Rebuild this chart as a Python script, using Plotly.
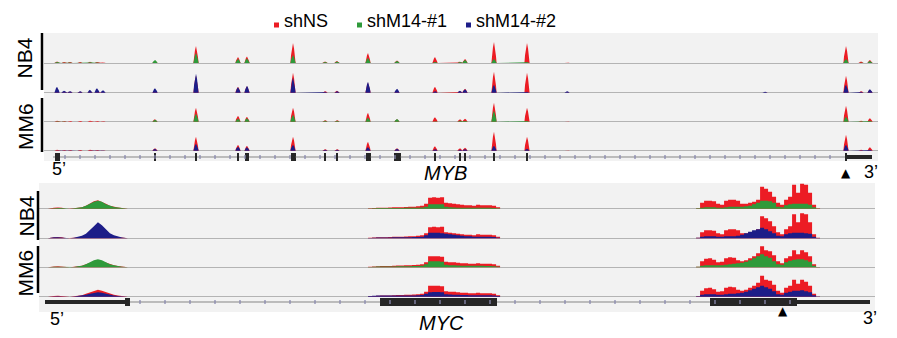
import plotly.graph_objects as go

W, H = 897, 338
FONT = "Liberation Sans, Arial, Helvetica, sans-serif"
RED, GREEN, BLUE = "#EC1C24", "#2F9A3A", "#1D1D88"
GENE_COLOR = "#262626"
PANEL_BG = "#F2F2F2"

# ---------------- MYB locus (kb from the TSS) ----------------
# summits of the m6A-IP peaks and their heights in each library
myb_peak_kb = [0.2, 0.55, 0.85, 1.35, 1.85, 2.2, 2.5, 5.1, 7.15, 9.25, 9.7, 12.0, 13.6,
               14.2, 15.75, 17.2, 19.1, 20.35, 20.6, 22.05, 23.7, 25.7, 35.6, 39.65, 40.4, 40.85]
myb_nb4_shNS = [1.5, 1, 1, 1, 1.2, 1, 0.5, 2, 17, 6, 6.5, 20, 1.5,
                2, 10, 2.5, 6, 1.5, 4, 21, 20, 0.5, 0.3, 17, 1.5, 3]
myb_nb4_sh1 = [1, 0.5, 0.5, 0.5, 0.8, 0.5, 0.3, 3, 10, 4, 4.5, 8, 1,
               1.5, 5, 2, 1, 1, 3, 4, 1, 0.3, 0.3, 4, 0.5, 2]
myb_nb4_sh2 = [6, 2, 1.5, 1.5, 3, 4.5, 2.5, 4.5, 19, 5.5, 7, 15, 1,
               1.5, 11, 4, 1.5, 2, 3.5, 8, 1, 1.5, 1, 8, 1, 3.5]
myb_mm6_shNS = [1, 0.8, 0.8, 0.8, 1, 0.8, 0.5, 2.5, 14, 6, 5, 14, 1.5,
                1.5, 9, 2.5, 4.5, 2.5, 3, 19, 14, 0.3, 0.3, 16, 1, 3.5]
myb_mm6_sh1 = [0.5, 0.4, 0.4, 0.4, 0.5, 0.4, 0.2, 2, 8, 3, 3.5, 7, 1,
               1, 4, 2.8, 0.5, 1, 1, 11, 1, 0.2, 0.2, 5, 0.5, 1]
myb_mm6_sh2 = [0.4, 0.3, 0.3, 0.3, 0.4, 0.3, 0.2, 2, 7, 4, 3.5, 6, 1,
               1, 3.5, 2, 1.5, 1, 1.5, 5, 2, 0.2, 0.2, 6, 0.5, 1]

# MYB exons: start, end (kb) and block type
myb_exon_start = [0.1, 5.05, 7.1, 9.2, 9.6, 11.88, 13.55, 14.15, 15.63, 17.03, 19.05,
                  20.3, 20.55, 22.0, 23.65, 39.6, 39.7]
myb_exon_end = [0.35, 5.15, 7.2, 9.3, 9.8, 12.13, 13.65, 14.25, 15.88, 17.38, 19.15,
                20.4, 20.65, 22.1, 23.75, 39.7, 40.95]
myb_exon_kind = ["cds"] * 16 + ["utr"]
myb_gene_span = [0.0, 40.95]
myb_site_kb = 39.65

# ---------------- MYC locus (bp from the TSS), 26-bp bins ----------------
myc_bin_bp = 26
myc_seg_start_bp = [32, 2100, 4232]
myc_nb4_shNS = [
    [0.5, 1, 1.2, 1, 0, 0, 0.5, 1, 1.5, 3, 5, 7.5, 8.5, 7, 5, 3, 2, 1.2, 0.8, 0.3],
    [0.5, 0.8, 1, 1, 1, 1.2, 1.5, 1.5, 1.5, 1.8, 2, 2, 2.5, 3, 5, 11, 11.5, 11, 11.5, 6, 5.5,
     5, 4.5, 4, 3.5, 3.5, 3, 4, 3.5, 3.5, 3.5, 3, 1.5],
    [0.5, 6, 8, 8, 7.5, 5, 4, 8, 9, 9, 8, 5, 5, 6, 7, 9, 22, 20, 17, 12, 6, 4, 9, 12, 24, 16,
     25, 24, 16, 4, 0.5],
]
myc_nb4_sh1 = [
    [0.3, 0.6, 0.8, 0.6, 0, 0, 0.5, 1, 1.5, 3, 5, 7, 8, 7, 4.5, 3, 1.8, 1.2, 0.8, 0.3],
    [0.3, 0.5, 0.7, 0.7, 0.7, 0.8, 0.8, 0.8, 0.8, 1, 1, 1, 1, 1.2, 2, 4.5, 4.5, 4.5, 4.5, 2,
     1.5, 1.2, 1, 1, 1, 1, 1, 1, 1, 1, 1, 0.8, 0.4],
    [0.5, 1, 1.5, 1.5, 1.5, 1, 1, 1.5, 2, 2, 2, 2, 2.5, 3, 4.5, 6, 8, 8, 7.5, 6, 2, 1.5, 3.5,
     4.5, 5, 5, 5, 5, 4, 1.5, 0.3],
]
myc_nb4_sh2 = [
    [0.5, 1, 1, 0.8, 0, 0, 0.5, 1.5, 2.5, 4.5, 8, 12, 16, 13, 9, 5, 3, 1.5, 0.8, 0.3],
    [0.3, 0.5, 0.7, 0.8, 0.8, 0.8, 1, 1, 1, 1, 1, 1.2, 1.2, 1.5, 3, 5.5, 5.5, 5.5, 5, 4.5, 4,
     3.5, 3, 2.5, 2, 2, 1.5, 1.5, 1.5, 1.5, 1.5, 1.2, 0.6],
    [0.5, 1.5, 2, 2, 2, 1.5, 1.5, 2, 2, 2, 2.5, 3.5, 5, 6.5, 8, 9, 10.5, 9, 7, 5, 2.5, 2, 4,
     5, 5.5, 5.5, 5.5, 5, 4.5, 1.5, 0.3],
]
myc_mm6_shNS = [
    [0.5, 0.8, 1, 0.8, 0, 0, 0.5, 1, 1.5, 3, 4.5, 6, 7, 6, 4.5, 3, 2, 1.2, 0.8, 0.3],
    [0.5, 0.8, 1, 1.2, 1.2, 1.2, 1.5, 1.8, 1.8, 2, 2, 2.2, 2.5, 3, 5, 11, 11, 11, 10.5, 5.5,
     5, 5, 4.5, 4, 4, 3.5, 3.5, 4, 3.5, 3.5, 3.5, 3, 1.5],
    [0.5, 6, 8.5, 9, 7.5, 5, 5.5, 9, 10, 9.5, 7, 6, 7, 9, 11, 14, 21, 17, 16, 12, 6, 4, 9, 11,
     17, 13, 17, 15, 11, 3, 0.3],
]
myc_mm6_sh1 = [
    [0.3, 0.5, 0.6, 0.5, 0, 0, 0.3, 1, 1.5, 3, 5, 7, 8, 7, 5, 3, 2, 1, 0.5, 0.2],
    [0.3, 0.5, 0.7, 0.8, 0.8, 0.8, 0.8, 1, 1, 1, 1, 1.2, 1.2, 1.5, 3, 6, 6, 6, 5.5, 2.5, 2,
     2, 1.8, 1.5, 1.5, 1.5, 1.5, 1.5, 1.5, 1.2, 1.2, 1, 0.5],
    [0.5, 1.5, 2, 2, 2, 2, 2, 2.5, 3, 3.5, 4, 4.5, 5.5, 7, 9, 11, 13, 11, 9.5, 6, 3, 2.5, 5,
     6.5, 7.5, 8, 8, 7, 5.5, 1.5, 0.3],
]
myc_mm6_sh2 = [
    [0.2, 0.4, 0.4, 0.3, 0, 0, 0.3, 0.8, 1.2, 2, 3, 4, 4.5, 4, 3, 2, 1.2, 0.8, 0.5, 0.2],
    [0.8, 1, 1.2, 1.2, 1.2, 1.2, 1.3, 1.3, 1.3, 1.3, 1.3, 1.3, 1.5, 1.8, 3, 4.5, 4.7, 4.7,
     4.5, 2.5, 2.2, 2, 2, 1.8, 1.8, 1.5, 1.5, 1.5, 1.5, 1.5, 1.5, 1.2, 0.6],
    [0.5, 2, 2.5, 2.5, 2.5, 2, 2, 2.5, 3, 3, 3.5, 4, 5, 6.5, 8, 9.5, 11, 9.5, 8, 5.5, 2.5, 2,
     4, 5, 6, 6, 6.5, 5.5, 4.5, 1.5, 0.3],
]
# the 5' exon signal is smooth, the downstream segments are drawn as stepped bins
myc_seg_line_shape = ["linear", "hv", "hv"]

myc_exon_start = [0, 520, 2178, 4322, 4888]
myc_exon_end = [520, 552, 2938, 4888, 5362]
myc_exon_kind = ["utr", "cds", "cds", "cds", "utr3"]
myc_gene_span = [0, 5362]
myc_site_bp = 4797

cell_lines = ["NB4", "MM6"]
legend_names = ["shNS", "shM14-#1", "shM14-#2"]
legend_colors = [RED, GREEN, BLUE]


# ---------------- helpers ----------------
def py(p):
    return 1 - p / H


def px(p):
    return p / W


def spikes(pos, heights, hw=0.13):
    # each summit drawn as a narrow spike with steep flanks
    xs, ys = [], []
    for p, h in zip(pos, heights):
        xs += [p - hw, p - 0.75 * hw, p - 0.4 * hw, p, p + 0.4 * hw, p + 0.75 * hw, p + hw]
        ys += [0, 0.4 * h, 0.75 * h, h, 0.72 * h, 0.35 * h, 0]
    return xs, ys


def binned(start, vals, step, shape):
    if shape == "hv":
        xs = [start + i * step for i in range(len(vals))] + [start + len(vals) * step]
        ys = list(vals) + [0]
    else:
        xs = [start - step / 2] + [start + i * step for i in range(len(vals))] + \
             [start + (len(vals) - 0.5) * step]
        ys = [0] + list(vals) + [0]
    return xs, ys


fig = go.Figure()

# track layout: (cell line, knockdown index)
track_order = [(0, 0), (0, 1), (1, 0), (1, 1)]
myb_series = {0: (myb_nb4_shNS, myb_nb4_sh1, myb_nb4_sh2),
              1: (myb_mm6_shNS, myb_mm6_sh1, myb_mm6_sh2)}
myc_series = {0: (myc_nb4_shNS, myc_nb4_sh1, myc_nb4_sh2),
              1: (myc_mm6_shNS, myc_mm6_sh1, myc_mm6_sh2)}


def area(xs, ys, color, xa, ya, shape="linear"):
    fig.add_trace(go.Scatter(
        x=xs, y=ys, xaxis=xa, yaxis=ya, mode="lines",
        line=dict(width=0, color=color, shape=shape),
        fill="tozeroy", fillcolor=color, hoverinfo="skip", showlegend=False))


# MYB coverage tracks (y, y2, y3, y4)
for t, (cell, kd) in enumerate(track_order):
    ya = "y" if t == 0 else f"y{t + 1}"
    ctrl, k1, k2 = myb_series[cell]
    kd_vals = k1 if kd == 0 else k2
    x0, y0 = spikes(myb_peak_kb, ctrl)
    area(x0, y0, RED, "x", ya)
    x1, y1 = spikes(myb_peak_kb, kd_vals)
    area(x1, y1, GREEN if kd == 0 else BLUE, "x", ya)

# MYC coverage tracks (y6..y9)
for t, (cell, kd) in enumerate(track_order):
    ya = f"y{t + 6}"
    ctrl, k1, k2 = myc_series[cell]
    kd_vals = k1 if kd == 0 else k2
    for s, shape, cv, kv in zip(myc_seg_start_bp, myc_seg_line_shape, ctrl, kd_vals):
        x0, y0 = binned(s, cv, myc_bin_bp, shape)
        area(x0, y0, RED, "x2", ya, shape)
        x1, y1 = binned(s, kv, myc_bin_bp, shape)
        area(x1, y1, GREEN if kd == 0 else BLUE, "x2", ya, shape)

# gene models
block_height = {"cds": 0.9, "utr": 0.6, "utr3": 0.5}


def gene_model(xa, ya, span, starts, ends, kinds, tick_step):
    # intron line only in the gaps between blocks
    order = sorted(zip(starts, ends))
    lx, ly = [], []
    prev_end = span[0]
    for s, e in order:
        if s > prev_end:
            lx += [prev_end, s, None]
            ly += [0, 0, None]
        prev_end = max(prev_end, e)
    if prev_end < span[1]:
        lx += [prev_end, span[1]]
        ly += [0, 0]
    fig.add_trace(go.Scatter(x=lx, y=ly, xaxis=xa, yaxis=ya, mode="lines",
                             line=dict(color="#858585", width=1),
                             hoverinfo="skip", showlegend=False))
    fig.add_trace(go.Bar(
        y=[0] * len(starts), x=[e - s for s, e in zip(starts, ends)], base=starts,
        width=[block_height[k] for k in kinds], orientation="h", xaxis=xa, yaxis=ya,
        marker=dict(color=GENE_COLOR, line=dict(width=0)),
        hoverinfo="skip", showlegend=False))
    # strand ticks, left off the untranslated blocks
    n = int((span[1] - span[0]) / tick_step)
    ticks = [span[0] + tick_step * (i + 0.8) for i in range(n)]
    utr = [(s, e) for s, e, k in zip(starts, ends, kinds) if k != "cds"]
    ticks = [t for t in ticks if not any(s - tick_step * 0.2 <= t <= e for s, e in utr)]
    fig.add_trace(go.Scatter(
        x=ticks, y=[0] * len(ticks), xaxis=xa, yaxis=ya, mode="markers",
        marker=dict(symbol="line-ns", size=3, line=dict(width=1.3, color="#8a8ab0")),
        hoverinfo="skip", showlegend=False))


gene_model("x", "y5", myb_gene_span, myb_exon_start, myb_exon_end, myb_exon_kind, 0.75)
gene_model("x2", "y10", myc_gene_span, myc_exon_start, myc_exon_end, myc_exon_kind, 162.5)

# ---------------- axes ----------------
myb_base_px = [63, 92.7, 121.7, 150.7]
myc_base_px = [208.7, 238.3, 267.3, 296.7]
layout_axes = {}
track_axis = dict(range=[-0.6, 27.4], showgrid=False, showticklabels=False, ticks="",
                  zeroline=True, zerolinecolor="#B4B4B4", zerolinewidth=1,
                  showline=False, fixedrange=True)
for i, b in enumerate(myb_base_px):
    key = "yaxis" if i == 0 else f"yaxis{i + 1}"
    layout_axes[key] = dict(track_axis, anchor="x", domain=[py(b + 0.6), py(b - 27.4)])
for i, b in enumerate(myc_base_px):
    layout_axes[f"yaxis{i + 6}"] = dict(track_axis, anchor="x2",
                                        domain=[py(b + 0.6), py(b - 27.4)])
gene_axis = dict(range=[-1, 1], visible=False, fixedrange=True)
layout_axes["yaxis5"] = dict(gene_axis, anchor="x", domain=[py(157 + 8), py(157 - 8)])
layout_axes["yaxis10"] = dict(gene_axis, anchor="x2", domain=[py(302 + 8), py(302 - 8)])
layout_axes["xaxis"] = dict(domain=[px(44), px(878)], range=[-0.45, 41.25],
                            visible=False, anchor="y", fixedrange=True)
layout_axes["xaxis2"] = dict(domain=[px(39), px(875)], range=[-39, 5395],
                             visible=False, anchor="y6", fixedrange=True)

# ---------------- panels, labels ----------------
shapes = [
    dict(type="rect", xref="paper", yref="paper", x0=px(44), x1=px(878),
         y0=py(161), y1=py(33), fillcolor=PANEL_BG, line_width=0, layer="below"),
    dict(type="rect", xref="paper", yref="paper", x0=px(39), x1=px(875),
         y0=py(312), y1=py(183), fillcolor=PANEL_BG, line_width=0, layer="below"),
]
bar_specs = [(42, 33, 90), (42, 98, 152), (38, 191, 240), (38, 246, 293)]
for xb, yt, yb in bar_specs:
    shapes.append(dict(type="line", xref="paper", yref="paper", x0=px(xb), x1=px(xb),
                       y0=py(yt), y1=py(yb), line=dict(color="black", width=2.5)))

annotations = []


def text(x, y, s, size, **kw):
    annotations.append(dict(x=px(x), y=py(y), xref="paper", yref="paper", text=s,
                            showarrow=False, xanchor=kw.pop("xanchor", "center"),
                            yanchor="middle", font=dict(family=FONT, size=size,
                                                        color="black"), **kw))


# legend keys and names
key_x = [274, 357, 466]
for kx, name, col in zip(key_x, legend_names, legend_colors):
    shapes.append(dict(type="rect", xref="paper", yref="paper", x0=px(kx), x1=px(kx + 5),
                       y0=py(27.5), y1=py(22.5), fillcolor=col, line_width=0))
    text(kx + 8, 21, name, 18, xanchor="left")

for (lx, ly), name in zip([(24.5, 58), (25, 127), (25.5, 216), (25, 273.5)],
                          cell_lines * 2):
    text(lx, ly, name, 21, textangle=-90)

text(59, 169, "5’", 18)
text(445, 173, "<i>MYB</i>", 20)
text(871, 172, "3’", 18)
text(56.5, 319, "5’", 18)
text(441, 323, "<i>MYC</i>", 20)
text(870, 318, "3’", 18)

annotations.append(dict(x=myb_site_kb, y=py(173), xref="x", yref="paper", text="▲",
                        showarrow=False, font=dict(size=12, color="black",
                                                   family="DejaVu Sans")))
annotations.append(dict(x=myc_site_bp, y=py(320), xref="x2", yref="paper", text="▲",
                        showarrow=False, font=dict(size=12, color="black",
                                                   family="DejaVu Sans")))

fig.update_layout(
    width=W, height=H, autosize=False,
    margin=dict(l=0, r=0, t=0, b=0, pad=0),
    paper_bgcolor="white", plot_bgcolor="rgba(0,0,0,0)",
    barmode="overlay", bargap=0, showlegend=False,
    shapes=shapes, annotations=annotations,
    **layout_axes,
)

fig.write_html("out.html", config={"displayModeBar": False})
